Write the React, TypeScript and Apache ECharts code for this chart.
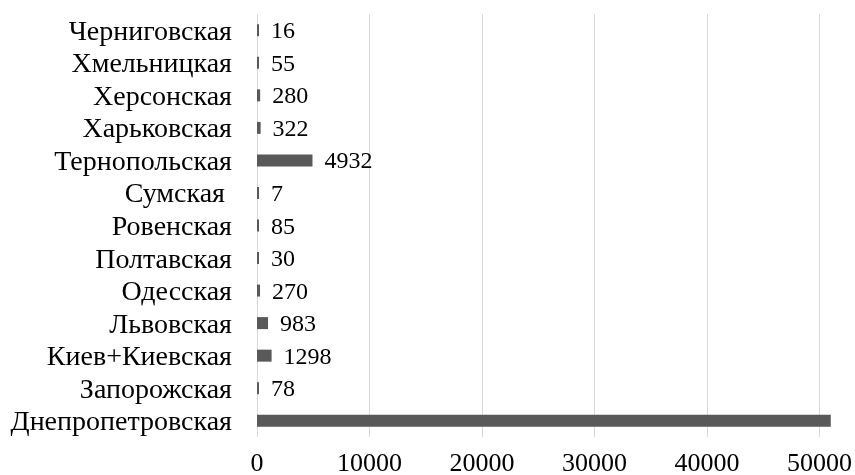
import React, { useEffect, useRef } from "react";
import * as echarts from "echarts";

const categories = [
  "Днепропетровская",
  "Запорожская",
  "Киев+Киевская",
  "Львовская",
  "Одесская",
  "Полтавская",
  "Ровенская",
  "Сумская ",
  "Тернопольская",
  "Харьковская",
  "Херсонская",
  "Хмельницкая",
  "Черниговская",
];
const values = [51000, 78, 1298, 983, 270, 30, 85, 7, 4932, 322, 280, 55, 16];
const xTicks = { min: 0, max: 50000, interval: 10000 };

export default function App() {
  const ref = useRef<HTMLDivElement>(null);
  useEffect(() => {
    if (!ref.current) return;
    const chart = echarts.init(ref.current, undefined, { renderer: "svg" });
    const font = "'Liberation Serif', 'Times New Roman', serif";
    chart.setOption({
      animation: false,
      grid: { left: 257, right: 35, top: 14, bottom: 37, containLabel: false },
      xAxis: {
        type: "value",
        min: xTicks.min,
        max: xTicks.max,
        interval: xTicks.interval,
        axisLine: { show: false },
        axisTick: { show: false },
        splitLine: { show: true, lineStyle: { color: "#d9d9d9", width: 1 } },
        axisLabel: {
          color: "#000",
          fontFamily: font,
          fontSize: 26,
          margin: 12,
          formatter: (v: number) => String(v),
        },
      },
      yAxis: {
        type: "category",
        data: categories,
        axisLine: { show: false },
        axisTick: { show: false },
        splitLine: { show: false },
        axisLabel: {
          color: "#000",
          fontFamily: font,
          fontSize: 28,
          margin: 25,
          interval: 0,
          hideOverlap: false,
        },
      },
      series: [
        {
          type: "bar",
          data: values,
          barWidth: 12,
          barMinHeight: 2,
          clip: false,
          itemStyle: { color: "#595959" },
          label: {
            show: true,
            position: "right",
            distance: 12,
            color: "#000",
            fontFamily: font,
            fontSize: 24,
            formatter: (p: any) => (p.dataIndex === 0 ? "" : String(p.value)),
          },
        },
      ],
    });
    return () => chart.dispose();
  }, []);
  return (
    <div
      ref={ref}
      style={{ position: "fixed", left: 0, top: 0, width: 855, height: 475 }}
    />
  );
}
